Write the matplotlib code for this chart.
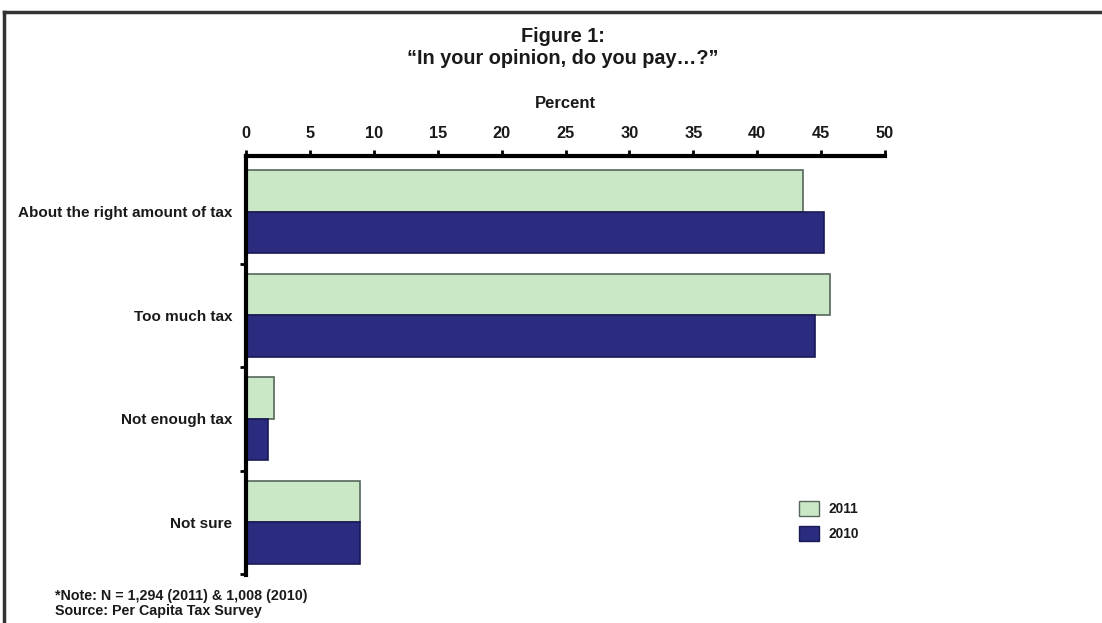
import matplotlib
matplotlib.use("Agg")
import matplotlib.pyplot as plt
import numpy as np
from matplotlib.lines import Line2D
from matplotlib.patches import Patch

plt.rcParams['font.family'] = ['Liberation Sans', 'DejaVu Sans']
plt.rcParams['font.weight'] = 'bold'

categories = ["About the right amount of tax", "Too much tax", "Not enough tax", "Not sure"]
values_2011 = [43.6, 45.7, 2.2, 8.9]
values_2010 = [45.2, 44.5, 1.7, 8.9]
series_labels = ["2011", "2010"]
x_ticks = [0, 5, 10, 15, 20, 25, 30, 35, 40, 45, 50]

green = "#cbe8c6"
navy = "#2b2b80"
text_color = "#1a1a1a"

fig = plt.figure(figsize=(11.02, 6.23), dpi=100)
ax = fig.add_axes([246 / 1102, 1 - 575 / 623, (885 - 246) / 1102, (575 - 156) / 623])

y = np.arange(len(categories))
h = 0.4
ax.barh(y - h / 2, values_2011, height=h, color=green, edgecolor="#55665a", linewidth=1.2)
ax.barh(y + h / 2, values_2010, height=h, color=navy, edgecolor="#1a1a55", linewidth=1.2)

ax.set_xlim(0, 50)
ax.set_ylim(3.51, -0.54)
ax.xaxis.tick_top()
ax.xaxis.set_label_position("top")
ax.set_xticks(x_ticks)
ax.set_xticklabels([str(t) for t in x_ticks], fontsize=11.8, fontweight='bold', color=text_color)
ax.set_xlabel("Percent", fontsize=12, fontweight='bold', labelpad=13, color=text_color)
ax.tick_params(axis='x', direction='out', length=4, width=2, pad=7, top=True, bottom=False)

ax.set_yticks(y)
ax.set_yticklabels(categories, fontsize=11.0, fontweight='bold', color=text_color)
ax.tick_params(axis='y', length=0, pad=10)
ax.set_yticks(y + 0.5, minor=True)
ax.tick_params(axis='y', which='minor', direction='out', length=4, width=2)

for s in ["right", "bottom"]:
    ax.spines[s].set_visible(False)
ax.spines["top"].set_linewidth(3)
ax.spines["left"].set_linewidth(3)

fig.text(563 / 1102, 1 - 36 / 623, "Figure 1:", ha='center', va='center', fontsize=14.3,
         fontweight='bold', color=text_color)
fig.text(563 / 1102, 1 - 58 / 623, "\u201cIn your opinion, do you pay\u2026?\u201d", ha='center', va='center',
         fontsize=14.3, fontweight='bold', color=text_color)

leg = ax.legend(handles=[Patch(facecolor=green, edgecolor="#55665a", label=series_labels[0]),
                         Patch(facecolor=navy, edgecolor="#1a1a55", label=series_labels[1])],
                loc='upper left', bbox_to_anchor=(787 / 1102, 1 - 489 / 623), bbox_transform=fig.transFigure,
                frameon=False, fontsize=9.9, handlelength=1.4, handleheight=1.3, labelspacing=0.7,
                handletextpad=0.75)
for t in leg.get_texts():
    t.set_color(text_color)

fig.text(55 / 1102, 1 - 596 / 623, "*Note: N = 1,294 (2011) & 1,008 (2010)", ha='left', va='center',
         fontsize=10.3, fontweight='bold', color=text_color)
fig.text(55 / 1102, 1 - 611 / 623, "Source: Per Capita Tax Survey", ha='left', va='center',
         fontsize=10.3, fontweight='bold', color=text_color)

fig.add_artist(Line2D([4 / 1102, 1.0], [1 - 12 / 623, 1 - 12 / 623], transform=fig.transFigure,
                      color="#333333", linewidth=2.5))
fig.add_artist(Line2D([4 / 1102, 4 / 1102], [0, 1 - 12 / 623], transform=fig.transFigure,
                      color="#333333", linewidth=2.5))

fig.savefig("out.png", dpi=100)
